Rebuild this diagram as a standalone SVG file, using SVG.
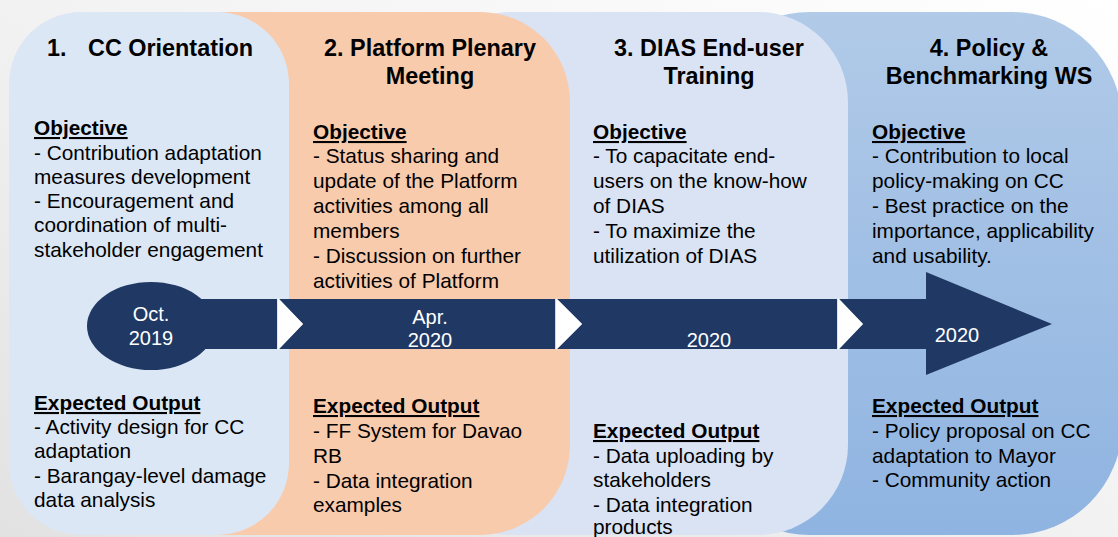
<svg xmlns="http://www.w3.org/2000/svg" width="1118" height="537" viewBox="0 0 1118 537">
<defs>
<linearGradient id="bg" x1="0" y1="1" x2="1" y2="0">
<stop offset="0" stop-color="#E2E2E2"/>
<stop offset="0.5" stop-color="#F2F2F2"/>
<stop offset="1" stop-color="#FFFFFF"/>
</linearGradient>
<linearGradient id="p4" x1="0" y1="0" x2="0" y2="1">
<stop offset="0" stop-color="#B1CAE8"/>
<stop offset="1" stop-color="#8FB4E1"/>
</linearGradient>
<style>
.t{font-family:"Liberation Sans",Arial,sans-serif;font-size:23.4px;font-weight:bold;fill:#000;text-anchor:middle}
.h{font-family:"Liberation Sans",Arial,sans-serif;font-size:20.8px;font-weight:bold;fill:#000;text-decoration:underline}
.b{font-family:"Liberation Sans",Arial,sans-serif;font-size:20.8px;fill:#000}
.d{font-family:"Liberation Sans",Arial,sans-serif;font-size:20px;fill:#FFFFFF;text-anchor:middle}
.nv{fill:#1F3864}
</style>
</defs>
<rect x="0" y="0" width="1118" height="537" fill="url(#bg)"/>

<g id="panel4">
<rect x="700" y="12" width="422" height="523" rx="110" ry="110" fill="url(#p4)"/>
<text class="t" x="989" y="56">4. Policy &amp;</text>
<text class="t" x="989" y="84">Benchmarking WS</text>
<text class="h" x="872" y="139">Objective</text>
<text class="b" x="872" y="163">- Contribution to local</text>
<text class="b" x="872" y="188">policy-making on CC</text>
<text class="b" x="872" y="213">- Best practice on the</text>
<text class="b" x="872" y="238">importance, applicability</text>
<text class="b" x="872" y="263">and usability.</text>
<text class="h" x="872" y="413">Expected Output</text>
<text class="b" x="872" y="438">- Policy proposal on CC</text>
<text class="b" x="872" y="463">adaptation to Mayor</text>
<text class="b" x="872" y="487">- Community action</text>
</g>

<g id="panel3">
<rect x="420" y="12" width="428" height="523" rx="90" ry="90" fill="#D9E3F3"/>
<text class="t" x="709" y="56">3. DIAS End-user</text>
<text class="t" x="709" y="84">Training</text>
<text class="h" x="593" y="139">Objective</text>
<text class="b" x="593" y="163">- To capacitate end-</text>
<text class="b" x="593" y="188">users on the know-how</text>
<text class="b" x="593" y="213">of DIAS</text>
<text class="b" x="593" y="238">- To maximize the</text>
<text class="b" x="593" y="263">utilization of DIAS</text>
<text class="h" x="593" y="438">Expected Output</text>
<text class="b" x="593" y="463">- Data uploading by</text>
<text class="b" x="593" y="487">stakeholders</text>
<text class="b" x="593" y="512">- Data integration</text>
<text class="b" x="593" y="534">products</text>
</g>

<g id="panel2">
<rect x="130" y="12" width="440" height="523" rx="90" ry="90" fill="#F8CBAD"/>
<text class="t" x="430" y="56">2. Platform Plenary</text>
<text class="t" x="430" y="84">Meeting</text>
<text class="h" x="313" y="139">Objective</text>
<text class="b" x="313" y="163">- Status sharing and</text>
<text class="b" x="313" y="188">update of the Platform</text>
<text class="b" x="313" y="213">activities among all</text>
<text class="b" x="313" y="238">members</text>
<text class="b" x="313" y="263">- Discussion on further</text>
<text class="b" x="313" y="288">activities of Platform</text>
<text class="h" x="313" y="413">Expected Output</text>
<text class="b" x="313" y="438">- FF System for Davao</text>
<text class="b" x="313" y="463">RB</text>
<text class="b" x="313" y="488">- Data integration</text>
<text class="b" x="313" y="512">examples</text>
</g>

<g id="panel1">
<rect x="9" y="12" width="280" height="523" rx="72" ry="72" fill="#DCE7F5"/>
<text class="t" x="47" y="56" style="text-anchor:start">1.</text>
<text class="t" x="88" y="56" style="text-anchor:start">CC Orientation</text>
<text class="h" x="34" y="135">Objective</text>
<text class="b" x="34" y="160">- Contribution adaptation</text>
<text class="b" x="34" y="184">measures development</text>
<text class="b" x="34" y="208">- Encouragement and</text>
<text class="b" x="34" y="232">coordination of multi-</text>
<text class="b" x="34" y="257">stakeholder engagement</text>
<text class="h" x="34" y="410">Expected Output</text>
<text class="b" x="34" y="434">- Activity design for CC</text>
<text class="b" x="34" y="458">adaptation</text>
<text class="b" x="34" y="483">- Barangay-level damage</text>
<text class="b" x="34" y="507">data analysis</text>
</g>

<g id="connectors">
<ellipse class="nv" cx="151" cy="326" rx="64" ry="44"/>
<rect class="nv" x="151" y="299" width="126" height="50"/>
<polygon class="nv" points="279,299 555,299 555,349 279,349 303,324"/>
<polygon class="nv" points="557,299 837,299 837,349 557,349 582,324"/>
<polygon class="nv" points="839,299 926,299 926,272 1052,324 926,375 926,349 839,349 863,324"/>
<polygon fill="#FFFFFF" points="278,298 303,324 278,350"/>
<polygon fill="#FFFFFF" points="556,298 582,324 556,350"/>
<polygon fill="#FFFFFF" points="838,298 863,324 838,350"/>
</g>

<g id="dates">
<text class="d" x="151" y="321">Oct.</text>
<text class="d" x="151" y="345">2019</text>
<text class="d" x="430" y="324">Apr.</text>
<text class="d" x="430" y="347">2020</text>
<text class="d" x="709" y="347">2020</text>
<text class="d" x="957" y="342">2020</text>
</g>
</svg>
